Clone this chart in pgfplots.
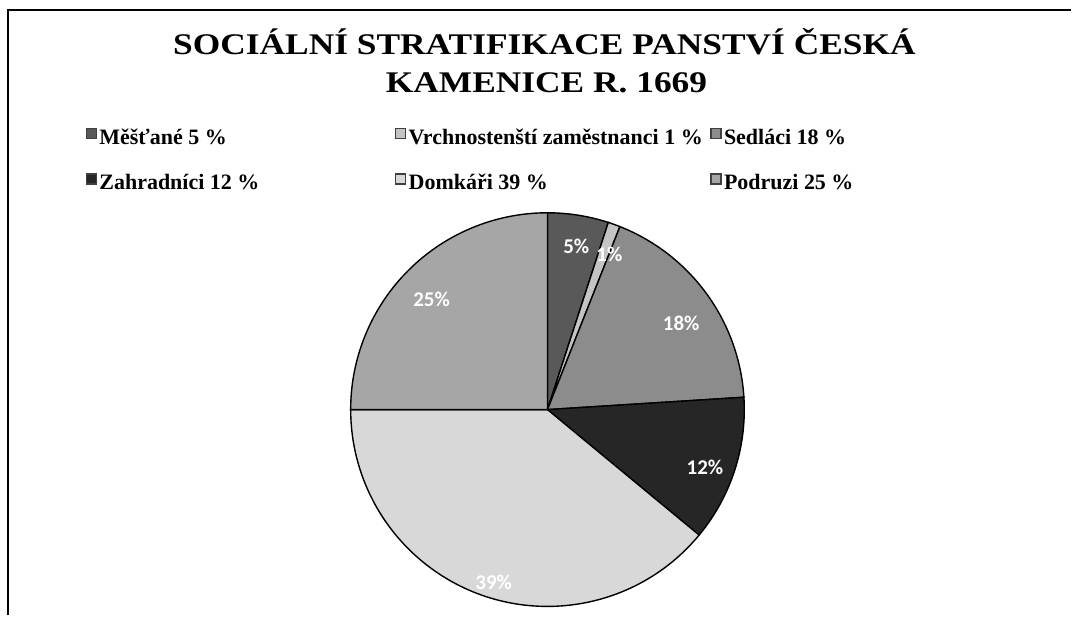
\documentclass[border=0pt]{standalone}
\usepackage{pgfplots}
\pgfplotsset{compat=1.18}
\usepackage{pgfplotstable}
\usepackage{graphicx}
\usepackage{fontspec}
\setmainfont{Liberation Serif}
\newfontfamily\labfont{Carlito}

\definecolor{c1}{HTML}{595959}
\definecolor{c2}{HTML}{C4C4C4}
\definecolor{c3}{HTML}{8C8C8C}
\definecolor{c4}{HTML}{262626}
\definecolor{c5}{HTML}{D8D8D8}
\definecolor{c6}{HTML}{A6A6A6}

% value, colour, label radius, label angle offset
\pgfplotstableread{
v col r da
5 c1 166 -1.0
1 c2 167 -2.0
18 c3 159 -3.3
12 c4 168 -2.2
39 c5 181 2.5
25 c6 160 1.5
}\piedata

\tikzset{pielbl/.style={text=white,inner sep=0pt,font=\labfont\bfseries\fontsize{10.5}{12}\selectfont}}

\begin{document}
\begin{tikzpicture}
\begin{axis}[
  width=536pt,height=308pt,scale only axis,
  xmin=0,xmax=1072,ymin=0,ymax=616,
  hide axis, clip=false,
  legend columns=3,
  legend cell align=left,
  legend image code/.code={\draw[#1,draw=black!75,line width=0.6pt] (0.3pt,-0.2pt) rectangle (5.3pt,4.8pt);},
  legend style={draw=none,fill=none,inner sep=0pt,
    at={(axis cs:85.5,488)},anchor=north west,
    font=\bfseries\fontsize{11}{12}\selectfont,
    nodes={inner sep=0pt,text height=7.5pt,text depth=1.5pt},
    row sep=13pt,
    /tikz/every odd column/.append style={column sep=1.2pt},
    /tikz/every even column/.append style={column sep=0pt}},
]
\path (axis cs:0,0) rectangle (axis cs:1072,616);
\draw[line width=1pt] (axis cs:8,0) -- (axis cs:8,606) -- (axis cs:1072,606);

\node[anchor=base,font=\bfseries\fontsize{15}{17}\selectfont] at (axis cs:545,561) {\scalebox{1.18}[1]{SOCIÁLNÍ STRATIFIKACE PANSTVÍ ČESKÁ}};
\node[anchor=base,font=\bfseries\fontsize{15}{17}\selectfont] at (axis cs:547,523) {\scalebox{1.18}[1]{KAMENICE R. 1669}};

\addlegendimage{fill=c1}\addlegendentry{\makebox[148pt][l]{Měšťané 5 \%}}
\addlegendimage{fill=c2}\addlegendentry{\makebox[151pt][l]{Vrchnostenští zaměstnanci 1 \%}}
\addlegendimage{fill=c3}\addlegendentry{Sedláci 18 \%}
\addlegendimage{fill=c4}\addlegendentry{\makebox[148pt][l]{Zahradníci 12 \%}}
\addlegendimage{fill=c5}\addlegendentry{\makebox[151pt][l]{Domkáři 39 \%}}
\addlegendimage{fill=c6}\addlegendentry{Podruzi 25 \%}

% slices
\gdef\cum{0}
\pgfplotsinvokeforeach{0,...,5}{
  \pgfplotstablegetelem{#1}{v}\of\piedata \let\pv\pgfplotsretval
  \pgfplotstablegetelem{#1}{col}\of\piedata \let\pc\pgfplotsretval
  \pgfmathsetmacro\pa{90-3.6*\cum}
  \pgfmathsetmacro\pb{90-3.6*(\cum+\pv)}
  \pgfmathsetmacro\xa{548+197*cos(\pa)}
  \pgfmathsetmacro\ya{206+197*sin(\pa)}
  \edef\tmp{\noexpand\filldraw[fill=\pc,draw=black,line width=0.7pt] (axis cs:548,206) -- (axis cs:\xa,\ya) arc[start angle=\pa,end angle=\pb,radius=98.5pt] -- cycle;}
  \tmp
  \pgfmathsetmacro\newcum{\cum+\pv}\xdef\cum{\newcum}
}
% labels
\gdef\cum{0}
\pgfplotsinvokeforeach{0,...,5}{
  \pgfplotstablegetelem{#1}{v}\of\piedata \let\pv\pgfplotsretval
  \pgfplotstablegetelem{#1}{r}\of\piedata \let\prad\pgfplotsretval
  \pgfplotstablegetelem{#1}{da}\of\piedata \let\pda\pgfplotsretval
  \pgfmathsetmacro\pm{90-3.6*(\cum+\pv/2)+\pda}
  \pgfmathsetmacro\lx{548+\prad*cos(\pm)}
  \pgfmathsetmacro\ly{206+\prad*sin(\pm)}
  \edef\tmp{\noexpand\node[pielbl] at (axis cs:\lx,\ly) {\pv\noexpand\%};}
  \tmp
  \pgfmathsetmacro\newcum{\cum+\pv}\xdef\cum{\newcum}
}
\end{axis}
\end{tikzpicture}
\end{document}
